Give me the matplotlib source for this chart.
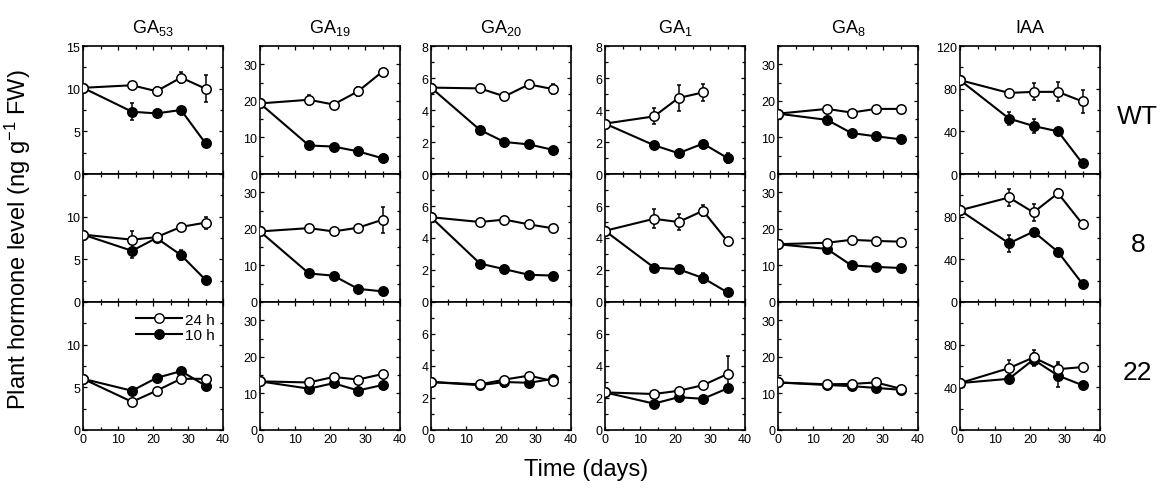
import numpy as np
import matplotlib
matplotlib.use("Agg")
import matplotlib.pyplot as plt
from matplotlib.lines import Line2D
from matplotlib.ticker import MultipleLocator

plt.rcParams["font.family"] = ["Liberation Sans", "DejaVu Sans"]
plt.rcParams["mathtext.fontset"] = "custom"
plt.rcParams["mathtext.rm"] = "Liberation Sans"
plt.rcParams["mathtext.it"] = "Liberation Sans"
plt.rcParams["mathtext.default"] = "regular"

# Sampling days
days = [0, 14, 21, 28, 35]

hormones = ["GA$_{53}$", "GA$_{19}$", "GA$_{20}$", "GA$_{1}$", "GA$_{8}$", "IAA"]
lines_ = ["WT", "8", "22"]
ylims = [15, 35, 8, 8, 35, 120]
ymajor = [5, 10, 2, 2, 10, 40]

# Each list holds rows WT, 8, 22; one value per sampling day (ng g-1 FW)
ga53_24h = [[10.1, 10.4, 9.7, 11.3, 10.0],
            [7.9, 7.3, 7.6, 8.8, 9.3],
            [6.0, 3.3, 4.6, 6.0, 6.0]]
ga53_24h_err = [[0, 0, 0.5, 0.6, 1.6],
                [0, 1.0, 0, 0.5, 0.7],
                [0, 0, 0, 0, 0.4]]
ga53_10h = [[10.1, 7.3, 7.1, 7.5, 3.6],
            [7.9, 6.0, 7.5, 5.5, 2.6],
            [6.0, 4.6, 6.1, 6.9, 5.2]]
ga53_10h_err = [[0, 1.0, 0, 0, 0],
                [0, 0.8, 0, 0.6, 0],
                [0, 0, 0, 0.3, 0]]

ga19_24h = [[19.3, 20.3, 19.0, 22.6, 28.0],
            [19.3, 20.2, 19.3, 20.3, 22.5],
            [13.3, 13.0, 14.5, 13.8, 15.3]]
ga19_24h_err = [[0, 1.3, 0, 1.2, 0],
                [0, 0, 0, 0, 3.5],
                [0, 0, 0, 0, 0]]
ga19_10h = [[19.3, 7.8, 7.5, 6.2, 4.3],
            [19.3, 7.8, 7.2, 3.6, 2.9],
            [13.3, 11.3, 12.8, 10.8, 12.3]]
ga19_10h_err = [[0, 0, 0, 0, 0],
                [0, 0, 0, 0, 0],
                [0, 0, 0, 0, 0]]

ga20_24h = [[5.4, 5.35, 4.85, 5.6, 5.3],
            [5.3, 5.0, 5.15, 4.85, 4.6],
            [3.0, 2.85, 3.15, 3.4, 3.05]]
ga20_24h_err = [[0, 0, 0, 0.2, 0.3],
                [0, 0, 0, 0, 0],
                [0, 0, 0, 0, 0]]
ga20_10h = [[5.4, 2.75, 2.0, 1.85, 1.5],
            [5.3, 2.4, 2.05, 1.7, 1.65],
            [3.0, 2.8, 3.0, 2.95, 3.2]]
ga20_10h_err = [[0, 0, 0, 0, 0],
                [0, 0, 0, 0, 0],
                [0, 0, 0.3, 0, 0]]

ga1_24h = [[3.15, 3.6, 4.75, 5.1, np.nan],
           [4.45, 5.2, 5.0, 5.7, 3.8],
           [2.35, 2.25, 2.45, 2.8, 3.5]]
ga1_24h_err = [[0, 0.5, 0.8, 0.55, 0],
               [0, 0.6, 0.5, 0.35, 0],
               [0, 0, 0, 0, 1.1]]
ga1_10h = [[3.15, 1.8, 1.3, 1.9, 1.0],
           [4.45, 2.15, 2.05, 1.5, 0.6],
           [2.35, 1.65, 2.05, 1.95, 2.6]]
ga1_10h_err = [[0, 0, 0, 0, 0.3],
               [0, 0, 0, 0.3, 0],
               [0, 0, 0, 0, 0]]

ga8_24h = [[16.5, 17.8, 16.8, 17.8, 17.8],
           [15.8, 16.2, 17.0, 16.7, 16.5],
           [13.0, 12.5, 12.6, 13.0, 11.3]]
ga8_24h_err = [[0, 0, 0, 0, 0],
               [0, 0, 0, 0, 0],
               [0, 0, 0, 0, 0]]
ga8_10h = [[16.5, 14.8, 11.2, 10.3, 9.5],
           [15.8, 14.5, 10.0, 9.6, 9.3],
           [13.0, 12.3, 12.0, 11.5, 11.0]]
ga8_10h_err = [[0, 0, 0, 0, 0],
               [0, 0, 0, 0, 0],
               [0, 0, 0, 0, 0]]

iaa_24h = [[88, 76, 77, 77, 68],
           [86, 98, 84, 102, 73],
           [44, 58, 68, 57, 59]]
iaa_24h_err = [[0, 0, 8, 9, 11],
               [0, 8, 8, 4, 0],
               [0, 8, 7, 7, 0]]
iaa_10h = [[88, 52, 45, 40, 10],
           [86, 55, 66, 47, 17],
           [44, 48, 66, 51, 42]]
iaa_10h_err = [[0, 6, 7, 0, 0],
               [0, 8, 0, 4, 0],
               [0, 4, 6, 11, 0]]

series_24h = [ga53_24h, ga19_24h, ga20_24h, ga1_24h, ga8_24h, iaa_24h]
series_24h_err = [ga53_24h_err, ga19_24h_err, ga20_24h_err, ga1_24h_err, ga8_24h_err, iaa_24h_err]
series_10h = [ga53_10h, ga19_10h, ga20_10h, ga1_10h, ga8_10h, iaa_10h]
series_10h_err = [ga53_10h_err, ga19_10h_err, ga20_10h_err, ga1_10h_err, ga8_10h_err, iaa_10h_err]

W, H = 1163, 489
fig = plt.figure(figsize=(W / 100, H / 100), dpi=100)

col_left = [83, 260, 431, 605, 778, 960]
panel_w = 140
row_top = 47
row_h = 128

marker_kw = dict(marker="o", markersize=6.8, markeredgewidth=1.1, markeredgecolor="black",
                 color="black", linewidth=1.5, elinewidth=1.1, capsize=1.6, capthick=1.0)

for c in range(6):
    for r in range(3):
        top = row_top + r * row_h
        ax = fig.add_axes([col_left[c] / W, (H - top - row_h) / H, panel_w / W, row_h / H])
        ymax = ylims[c]
        ax.set_xlim(0, 40)
        ax.set_ylim(0, ymax)
        ax.xaxis.set_major_locator(MultipleLocator(10))
        ax.xaxis.set_minor_locator(MultipleLocator(5))
        ax.yaxis.set_major_locator(MultipleLocator(ymajor[c]))
        ax.yaxis.set_minor_locator(MultipleLocator(ymajor[c] / 2))
        ax.tick_params(which="both", direction="in", top=True, right=True,
                       width=0.9, labelsize=9, pad=2)
        ax.tick_params(which="major", length=3)
        ax.tick_params(which="minor", length=2)
        for s in ax.spines.values():
            s.set_linewidth(1.2)
        if r < 2:
            ax.tick_params(labelbottom=False)
        ticks = np.arange(0, ymax + 1e-9, ymajor[c])
        ax.set_yticks(ticks)
        labels = [f"{t:g}" for t in ticks]
        if r > 0 and np.isclose(ticks[-1], ymax):
            labels[-1] = ""
        ax.set_yticklabels(labels)

        ax.errorbar(days, series_10h[c][r], yerr=series_10h_err[c][r],
                    markerfacecolor="black", zorder=3, **marker_kw)
        ax.errorbar(days, series_24h[c][r], yerr=series_24h_err[c][r],
                    markerfacecolor="white", zorder=4, **marker_kw)

        if r == 0:
            ax.set_title(hormones[c], fontsize=13, pad=10)
        if c == 5:
            ax.text(1.27, 0.45, lines_[r], transform=ax.transAxes,
                    fontsize=19, ha="center", va="center")
        if c == 0 and r == 2:
            handles = [Line2D([], [], color="black", lw=1.5, marker="o", markersize=6.8,
                              markerfacecolor="white", markeredgecolor="black"),
                       Line2D([], [], color="black", lw=1.5, marker="o", markersize=6.8,
                              markerfacecolor="black", markeredgecolor="black")]
            ax.legend(handles, ["24 h", "10 h"], loc="upper right", frameon=False,
                      fontsize=11, handlelength=3.0, handletextpad=0.2,
                      labelspacing=0.1, borderaxespad=0.3, bbox_to_anchor=(1.02, 1.0))

fig.text(18 / W, 1 - 240 / H, "Plant hormone level (ng g$^{-1}$ FW)", rotation=90,
         fontsize=17, ha="center", va="center")
fig.text(586 / W, 1 - 470 / H, "Time (days)", fontsize=17, ha="center", va="center")

fig.savefig("out.png", dpi=100)
